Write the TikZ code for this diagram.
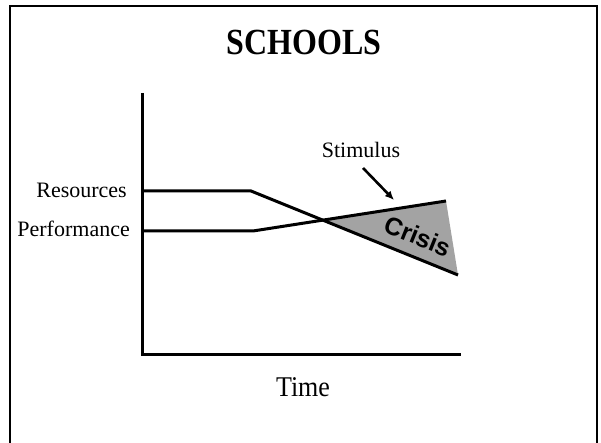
\documentclass[tikz,border=0pt]{standalone}
\usepackage{fontspec}
\setmainfont{Liberation Serif}
\newfontfamily\crisisfont{Liberation Sans}
\usetikzlibrary{arrows.meta}
\begin{document}
\begin{tikzpicture}[x=1pt,y=1pt,
  heavy/.style={line width=3pt},
  frameline/.style={line width=2.6pt},
  lbl/.style={inner sep=0pt,font=\fontsize{22}{24}\selectfont}]
\useasboundingbox (0,0) rectangle (601,443);
\fill[white] (0,0) rectangle (601,443);
% frame (no bottom edge visible)
\coordinate (fbl) at (10,-5);
\coordinate (ftl) at (10,437);
\coordinate (ftr) at (597,437);
\coordinate (fbr) at (597,-5);
\draw[frameline] (fbl) -- (ftl) -- (ftr) -- (fbr);
% title
\node[inner sep=0pt,anchor=base,yscale=1.15,font=\bfseries\fontsize{32}{36}\selectfont] (title) at (304,388) {SCHOOLS};
% axes
\coordinate (ytop) at (142,350);
\coordinate (orig) at (142,88);
\coordinate (xend) at (461,88);
\draw[heavy] (ytop) -- (orig) -- (xend);
% curves
\coordinate (r0) at (142,252);
\coordinate (r1) at (251,252);
\coordinate (r2) at (458,168);
\coordinate (p0) at (142,212);
\coordinate (p1) at (253,212);
\coordinate (p2) at (446,242);
\coordinate (cx) at (intersection of r1--r2 and p1--p2);
\fill[black!36] (cx) -- (p2) -- (r2) -- cycle;
\draw[heavy] (r0) -- (r1) -- (r2);
\draw[heavy] (p0) -- (p1) -- (p2);
% crisis label
\node[inner sep=0pt,rotate=-22,font=\crisisfont\bfseries\fontsize{25}{27}\selectfont] (crisis) at (418,207) {Crisis};
% labels
\node[lbl,anchor=base east] (res) at (127,245) {Resources};
\node[lbl,anchor=base east] (perf) at (130,206) {Performance};
\node[lbl,anchor=base] (stim) at (361,285) {Stimulus};
\coordinate (stimtip) at (394,243);
\draw[line width=2.6pt,-{Latex[length=9pt,width=8pt]}] (363,275) -- (stimtip);
\node[inner sep=0pt,anchor=base,yscale=1.1,font=\fontsize{26}{28}\selectfont] (time) at (303,46) {Time};
\end{tikzpicture}
\end{document}
